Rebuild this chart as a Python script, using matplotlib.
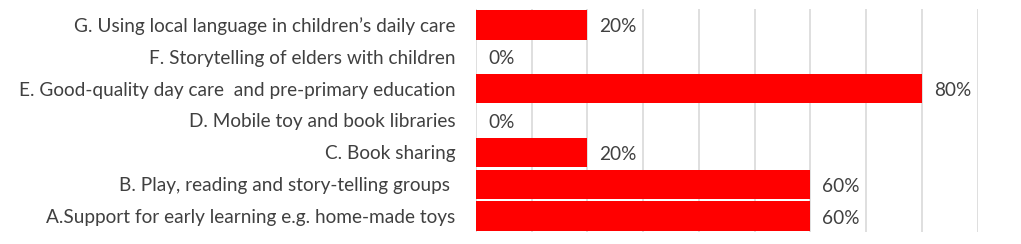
import matplotlib
matplotlib.use("Agg")
import matplotlib.pyplot as plt
from matplotlib.ticker import MultipleLocator

categories = [
    "A.Support for early learning e.g. home-made toys",
    "B. Play, reading and story-telling groups ",
    "C. Book sharing",
    "D. Mobile toy and book libraries",
    "E. Good-quality day care  and pre-primary education",
    "F. Storytelling of elders with children",
    "G. Using local language in children\u2019s daily care",
]
values = [0.60, 0.60, 0.20, 0.00, 0.80, 0.00, 0.20]
value_labels = ["60%", "60%", "20%", "0%", "80%", "0%", "20%"]

plt.rcParams['font.family'] = ['Lato', 'DejaVu Sans']
text_color = "#404040"

fig = plt.figure(figsize=(10.21, 2.44), dpi=100)
ax = fig.add_axes([476/1021, 1 - 232/244, (977.5 - 476)/1021, (232 - 9)/244])

y = list(range(len(categories)))
ax.barh(y, values, height=0.92, color="#ff0000", linewidth=0, zorder=3)

for yi, v, lab in zip(y, values, value_labels):
    ax.annotate(lab, xy=(v, yi), xytext=(12, -2), textcoords="offset pixels",
                ha="left", va="center", fontsize=13.7, color=text_color)

ax.set_xlim(0, 0.9)
ax.set_ylim(-0.5, len(categories) - 0.5)
ax.xaxis.set_major_locator(MultipleLocator(0.1))
ax.grid(axis="x", color="#d9d9d9", linewidth=1.2, zorder=0)
ax.set_axisbelow(True)
ax.set_yticks(y)
ax.set_yticklabels(categories, fontsize=13.7, color=text_color)
ax.tick_params(axis="y", length=0, pad=15)
ax.tick_params(axis="x", length=0, labelbottom=False)
for s in ax.spines.values():
    s.set_visible(False)

fig.savefig("out.png", dpi=100, facecolor="white")
